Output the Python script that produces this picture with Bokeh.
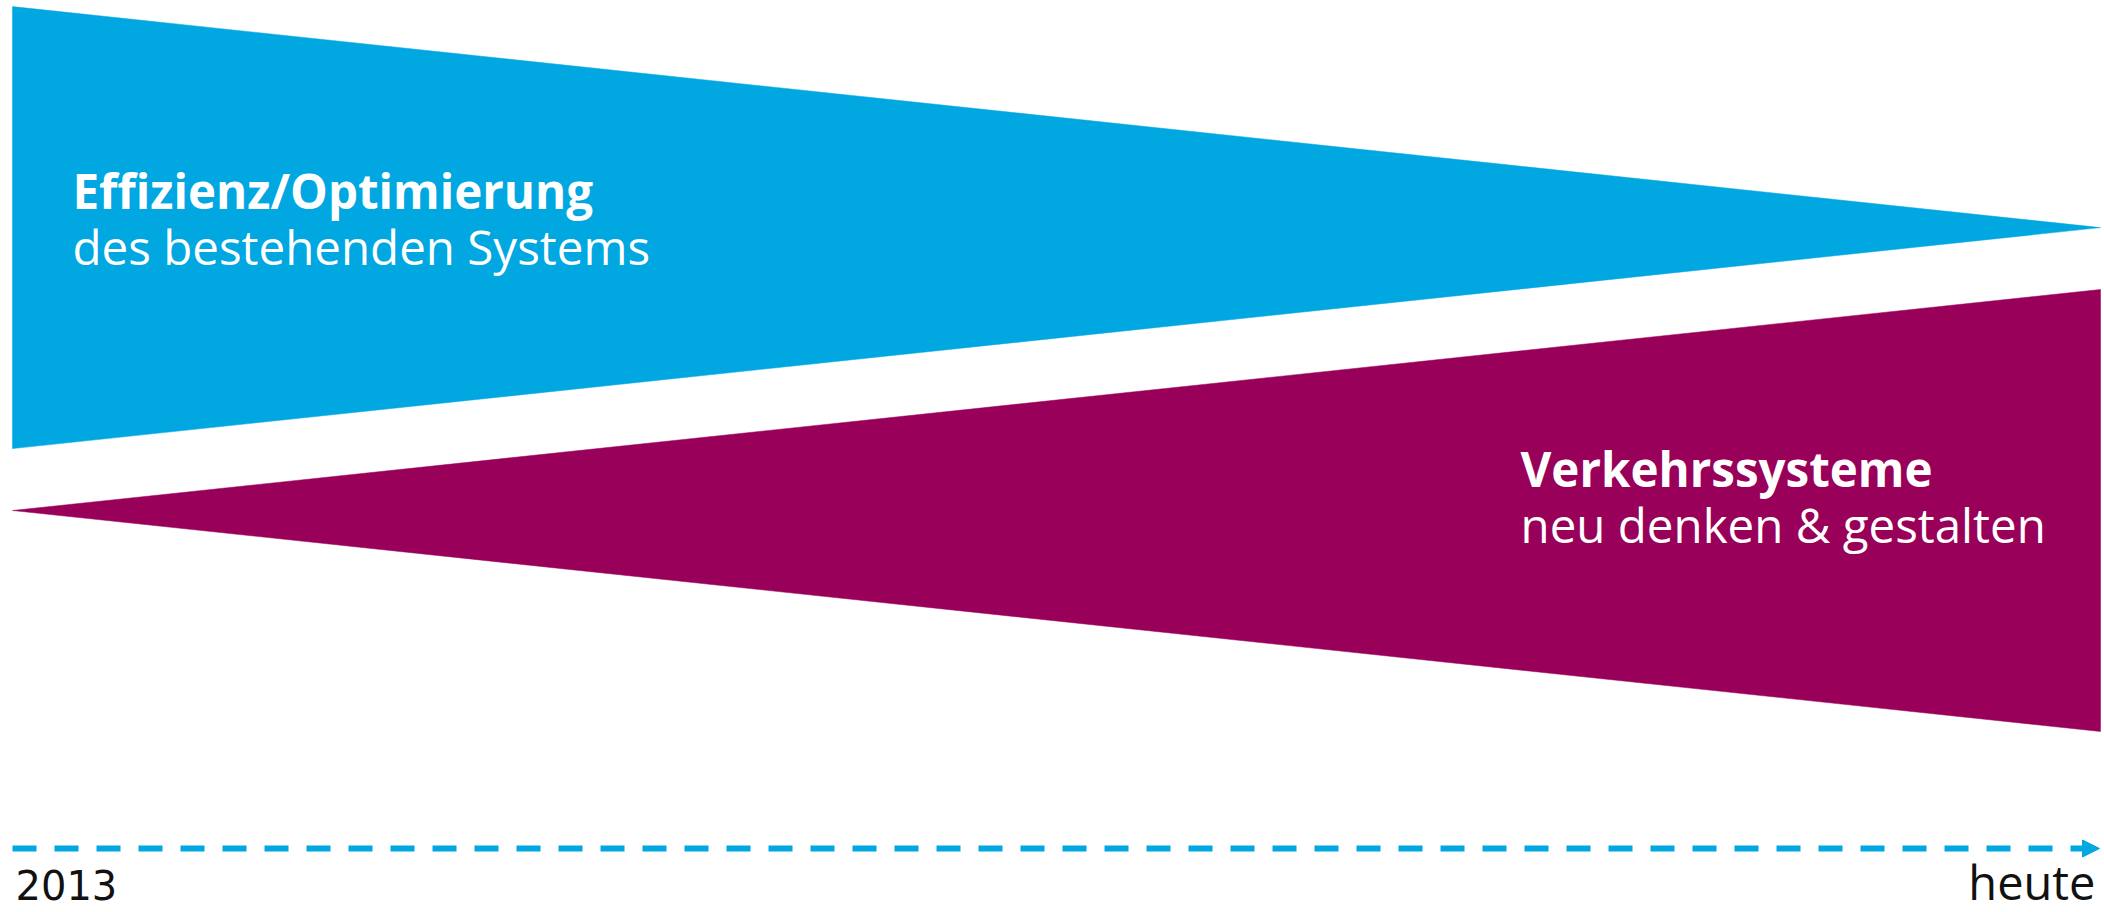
from bokeh.plotting import figure
from bokeh.models import Range1d, Arrow, NormalHead
from bokeh.core.properties import value
from bokeh.embed import file_html
from bokeh.resources import INLINE

# ---- data ----
stages = ["2013", "heute"]          # timeline end labels
stage_pos = [0.0, 1.0]              # relative time position
band_names = ["Effizienz/Optimierung", "Verkehrssysteme"]
band_subtitles = ["des bestehenden Systems", "neu denken & gestalten"]
band_centers = [1.14, 0.50]         # centre line of each wedge
efficiency_width = [1.0, 0.0]       # wedge width at 2013 / heute
redesign_width = [0.0, 1.0]

BLUE = "#00A7E1"
MAGENTA = "#990059"

# ---- picture geometry (pixels) ----
W, H = 2104, 912
PX_X0, PX_X1 = 12, 2100          # picture x of stage 0 and 1
PX_PER_X = PX_X1 - PX_X0
PX_Y_ZERO, PX_PER_Y = 731, 442   # picture y of value 0, pixels per unit
TEXT_DY = 18                     # empirical baseline correction


def px_to_x(px):
    return (px - PX_X0) / PX_PER_X


def py_to_y(py):
    return (PX_Y_ZERO - py) / PX_PER_Y


def ty_text(py):
    return py_to_y(py - TEXT_DY)


p = figure(width=W, height=H, output_backend="svg", toolbar_location=None,
           x_range=Range1d(px_to_x(0), px_to_x(W)),
           y_range=Range1d(py_to_y(H), py_to_y(0)),
           x_axis_type=None, y_axis_type=None, min_border=0)
p.min_border_left = p.min_border_right = p.min_border_top = p.min_border_bottom = 0
p.outline_line_color = None
p.grid.visible = False
p.background_fill_color = "white"


def wedge(center, widths):
    upper = [center + w / 2 for w in widths]
    lower = [center - w / 2 for w in widths]
    xs = list(stage_pos) + list(reversed(stage_pos))
    ys = upper + list(reversed(lower))
    return xs, ys


xs, ys = wedge(band_centers[0], efficiency_width)
p.patch(xs, ys, fill_color=BLUE, line_color=BLUE, line_width=0.5)
xs, ys = wedge(band_centers[1], redesign_width)
p.patch(xs, ys, fill_color=MAGENTA, line_color=MAGENTA, line_width=0.5)

# ---- labels ----
label_font = value("Open Sans")
fs = value("47.5px")
p.text(x=[px_to_x(72)], y=[ty_text(208)], text=[band_names[0]],
       text_font=label_font, text_font_size=fs, text_font_style="bold",
       text_color="white", text_baseline="alphabetic", text_align="left")
p.text(x=[px_to_x(72)], y=[ty_text(264)], text=[band_subtitles[0]],
       text_font=label_font, text_font_size=fs, text_font_style="normal",
       text_color="white", text_baseline="alphabetic", text_align="left")
p.text(x=[px_to_x(1520)], y=[ty_text(486)], text=[band_names[1]],
       text_font=label_font, text_font_size=fs, text_font_style="bold",
       text_color="white", text_baseline="alphabetic", text_align="left")
p.text(x=[px_to_x(1520)], y=[ty_text(542)], text=[band_subtitles[1]],
       text_font=label_font, text_font_size=fs, text_font_style="normal",
       text_color="white", text_baseline="alphabetic", text_align="left")

# ---- timeline ----
ty = py_to_y(848)
p.line(x=[stage_pos[0], px_to_x(2090)], y=[ty, ty], line_color=BLUE,
       line_width=6, line_dash="24 18", line_cap="butt")
p.add_layout(Arrow(end=NormalHead(size=17, fill_color=BLUE, line_color=BLUE, line_width=1),
                   x_start=px_to_x(2080), y_start=ty, x_end=px_to_x(2099), y_end=ty,
                   line_color=BLUE, line_width=0, line_alpha=0))

p.text(x=[stage_pos[0] + px_to_x(15)], y=[ty_text(902)], text=[stages[0]],
       text_font=value("DejaVu Sans"), text_font_size=value("40px"),
       text_color="#111111", text_baseline="alphabetic", text_align="left")
p.text(x=[stage_pos[1] - (1 - px_to_x(2095))], y=[ty_text(899)], text=[stages[1]],
       text_font=label_font, text_font_size=value("47px"),
       text_color="#111111", text_baseline="alphabetic", text_align="right")

open("out.html", "w").write(file_html(p, INLINE))
